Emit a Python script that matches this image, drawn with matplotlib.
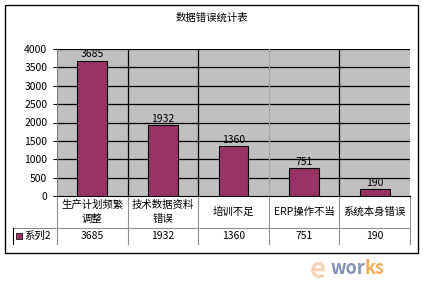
import matplotlib
matplotlib.use("Agg")
import matplotlib.pyplot as plt
from matplotlib.lines import Line2D
from matplotlib.patches import Rectangle
from matplotlib.transforms import blended_transform_factory, offset_copy

plt.rcParams['font.family'] = ['Noto Sans CJK SC', 'DejaVu Sans']

title = "数据错误统计表"
categories = ["生产计划频繁\n调整", "技术数据资料\n错误", "培训不足", "ERP操作不当", "系统本身错误"]
values = [3685, 1932, 1360, 751, 190]
series_name = "系列2"
yticks = [0, 500, 1000, 1500, 2000, 2500, 3000, 3500, 4000]

W, H = 423, 307
fig = plt.figure(figsize=(W / 100, H / 100), dpi=100)
fig.patch.set_facecolor("white")

def fx(px):
    return px / W

def fy(py):
    return 1 - py / H

# outer chart frame
fig.add_artist(Rectangle((fx(5), fy(253)), fx(418) - fx(5), fy(5) - fy(253),
                         transform=fig.transFigure, fill=False, ec="black", lw=1.0))

fig.text(fx(212), fy(18), title, ha="center", va="center", fontsize=7.5)

left, right, top, bottom = 57, 410, 49, 196
ax = fig.add_axes([fx(left), fy(bottom), fx(right) - fx(left), fy(top) - fy(bottom)])
ax.set_facecolor("#C0C0C0")
n = len(categories)
ax.set_xlim(-0.5, n - 0.5)
ax.set_ylim(0, 4000)
ax.set_yticks(yticks)
ax.set_yticklabels([str(t) for t in yticks], fontsize=7.5)
ax.tick_params(axis="y", length=3, width=0.8, pad=4)
ax.set_xticks([])
for ycoord in yticks[1:]:
    ax.axhline(ycoord, color="black", lw=0.9, zorder=1)
for s in ["top", "right"]:
    ax.spines[s].set_visible(False)
ax.spines["left"].set_color("#808080")
ax.spines["bottom"].set_color("black")

x = list(range(n))
ax.bar(x, values, width=0.42, color="#993366", edgecolor="black", lw=0.8, zorder=3)
for xi, v in zip(x, values):
    ax.text(xi, v + 40, str(v), ha="center", va="bottom", fontsize=7.5, zorder=4)

# category separators through plot area and data table
tr = blended_transform_factory(ax.transData, ax.transAxes)
h = bottom - top
row1 = -(228 - bottom) / h
row2 = -(244 - bottom) / h
for b in range(1, n):
    xb = b - 0.5
    col = "black" if b != 3 else "#a8a8a8"
    ax.add_line(Line2D([xb, xb], [1, 0], transform=tr, color=col, lw=0.9,
                       clip_on=False, zorder=2))
    ax.add_line(Line2D([xb, xb], [0, row2], transform=tr, color="#909090", lw=0.8,
                       clip_on=False))
ax.add_line(Line2D([n - 0.5, n - 0.5], [0, row2], transform=tr, color="#909090",
                   lw=0.8, clip_on=False))

# data table rows
for xi, c, v in zip(x, categories, values):
    ax.text(xi, row1 / 2, c, transform=tr, ha="center", va="center",
            fontsize=7.5, linespacing=1.45)
    ax.text(xi, (row1 + row2) / 2, str(v), transform=tr,
            ha="center", va="center", fontsize=7.5)

ta = ax.transAxes
lx = (13 - left) / (right - left)
ax.add_line(Line2D([lx, 1], [row1, row1], transform=ta, color="#909090", lw=0.8,
                   clip_on=False))
ax.add_line(Line2D([lx, lx], [row1, row2], transform=ta, color="black", lw=0.8,
                   clip_on=False))
ax.add_line(Line2D([0, 0], [0, row2], transform=ta, color="#909090", lw=0.8,
                   clip_on=False))
kx = (16 - left) / (right - left)
kw = 6 / (right - left)
kh = 6 / h
ax.add_patch(Rectangle((kx, (row1 + row2) / 2 - kh / 2), kw, kh, transform=ta,
                       facecolor="#993366", edgecolor="black", lw=0.5, clip_on=False))
ax.text((24 - left) / (right - left), (row1 + row2) / 2, series_name, transform=ta,
        ha="left", va="center", fontsize=7.5)

# watermark logo
fig.text(fx(318), fy(270), "e", fontsize=20, color="#f3b58a", alpha=0.6,
         ha="center", va="center", style="italic", fontweight="bold")
t1 = fig.text(fx(330), fy(269), "wor", fontsize=13, color="#6c7ea8", alpha=0.85,
              ha="left", va="center", fontweight="bold", style="italic")
renderer = fig.canvas.get_renderer()
bb = t1.get_window_extent(renderer=renderer)
fig.text(bb.x1 / fig.bbox.width, fy(269), "ks", fontsize=13, color="#f0a040",
         alpha=0.85, ha="left", va="center", fontweight="bold", style="italic")

fig.savefig("out.png", dpi=100)
